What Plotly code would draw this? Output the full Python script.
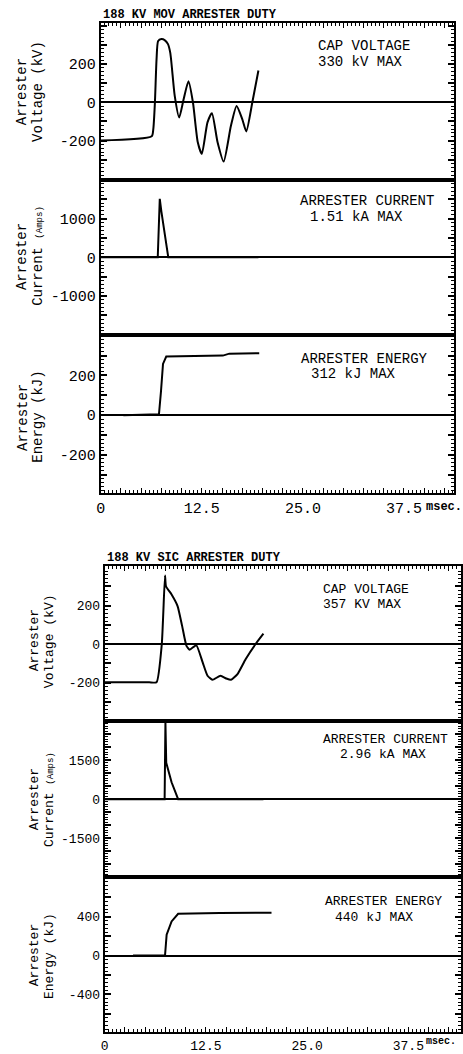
import math
import plotly.graph_objects as go

W, H = 463, 1054
FONT = "Liberation Mono"

# ---------------- data ----------------
# MOV case (top stack)
mov_v_t = [0, 6.3, 6.5, 6.7, 6.9, 7.1, 7.5, 7.9, 8.3, 8.6, 9.15, 9.7, 10.25, 10.85, 11.4, 12.0, 12.5,
           13.2, 13.75, 14.45, 15.2, 16.1, 16.8, 17.5, 18.0, 18.75, 19.5]
mov_v = [-200, -178, -140, 0, 223, 320, 330, 325, 305, 258, 33, -80, 16, 110, 0, -209, -270,
         -105, -57, -209, -310, -123, -19, -88, -152, 0, 166]
mov_i_t = [0, 7.05, 7.3, 7.5, 8.35, 19.5]
mov_i = [0, 0, 1510, 1180, 0, 0]
mov_e_t = [2.8, 7.2, 7.45, 7.7, 8.1, 15.1, 15.9, 19.6]
mov_e = [0, 5, 120, 258, 295, 300, 310, 312]

# SiC case (bottom stack)
sic_v_t = [0, 3.0, 5.5, 6.4, 7.05, 7.45, 7.57, 8.26, 9.0, 9.56, 10.1, 10.5, 11.3, 12.1, 12.7, 13.3,
           14.3, 15.0, 15.6, 16.4, 17.4, 18.7, 19.6]
sic_v = [-198, -198, -198, -198, 0, 357, 301, 258, 198, 95, -9, -29, -5, -95, -164, -185,
         -164, -178, -185, -155, -78, 5, 55]
sic_i_t = [0, 7.4, 7.5, 7.6, 8.26, 9.07, 19.6]
sic_i = [0, 0, 2960, 1400, 650, 0, 0]
sic_e_t = [3.5, 7.45, 7.65, 8.26, 9.07, 14.2, 20.6]
sic_e = [0, 0, 215, 353, 432, 440, 442]

x_labels = ["0", "12.5", "25.0", "37.5"]
x_label_vals = [0, 12.5, 25.0, 37.5]

titles = ["188 KV MOV ARRESTER DUTY", "188 KV SIC ARRESTER DUTY"]
notes_top = [("CAP VOLTAGE", "330 kV MAX"), ("ARRESTER CURRENT", "1.51 kA MAX"),
             ("ARRESTER ENERGY", "312 kJ MAX")]
notes_bot = [("CAP VOLTAGE", "357 KV MAX"), ("ARRESTER CURRENT", "2.96 kA MAX"),
             ("ARRESTER ENERGY", "440 kJ MAX")]
ytitles = [("Arrester", "Voltage (kV)"),
           ("Arrester", "Current <span style='font-size:9px'>(Amps)</span>"),
           ("Arrester", "Energy (kJ)")]


def px_x(p):
    return p / W


def px_y(p):
    return 1 - p / H


fig = go.Figure()

series = [
    (mov_v_t, mov_v, "spline", 0.6), (mov_i_t, mov_i, "linear", 0), (mov_e_t, mov_e, "linear", 0),
    (sic_v_t, sic_v, "spline", 0.5), (sic_i_t, sic_i, "linear", 0), (sic_e_t, sic_e, "linear", 0),
]
for k, (tx, ty, shape, sm) in enumerate(series):
    n = k + 1
    ln = dict(color="black", width=2, shape=shape)
    if shape == "spline":
        ln["smoothing"] = sm
    fig.add_trace(go.Scatter(
        x=tx, y=ty, mode="lines", line=ln,
        xaxis="x" if n == 1 else f"x{n}", yaxis="y" if n == 1 else f"y{n}",
        showlegend=False, hoverinfo="skip"))

top_x = (97, 455)
bot_x = (101, 462)
rows = [(23, 181), (181, 337), (337, 496), (570, 726), (726, 883), (883, 1039)]
yranges = [[-405, 415], [-2000, 2000], [-390, 405], [-400, 405], [-3000, 3000], [-790, 810]]
ymaj = [100, 500, 100, 100, 500, 200]
ymin = [20, 100, 20, 20, 100, 40]
ylab = [[-200, 0, 200], [-1000, 0, 1000], [-200, 0, 200],
        [-200, 0, 200], [-1500, 0, 1500], [-400, 0, 400]]
xranges = [[0, 43.7], [0, 44.0]]

layout = dict(
    width=W, height=H, margin=dict(l=0, r=0, t=0, b=0),
    paper_bgcolor="white", plot_bgcolor="white",
    font=dict(family=FONT, color="black"),
    annotations=[],
)

minor_y = lambda d: dict(dtick=d, ticks="inside", ticklen=3, tickwidth=1, tickcolor="black")

for k in range(6):
    n = k + 1
    top = k < 3
    xs = top_x if top else bot_x
    r0, r1 = rows[k]
    xr = xranges[0] if top else xranges[1]
    lo, hi = yranges[k]
    fsz = 15 if top else 13
    start = math.ceil(lo / ymaj[k]) * ymaj[k]
    vals = list(range(int(start), int(hi) + 1, ymaj[k]))
    yax = dict(
        domain=[px_y(r1), px_y(r0)], range=[lo, hi], anchor="x" if n == 1 else f"x{n}",
        showline=True, linecolor="black", linewidth=2, mirror="ticks",
        ticks="inside", ticklen=6, tickwidth=1.5, tickcolor="black",
        tickmode="array", tickvals=vals,
        ticktext=[str(v) if v in ylab[k] else "" for v in vals],
        tickfont=dict(family=FONT, size=fsz, color="black"),
        minor=minor_y(ymin[k]),
        showgrid=False, zeroline=True, zerolinecolor="black", zerolinewidth=2,
    )
    xvals = [i * 2.5 for i in range(0, 18)]
    xax = dict(
        domain=[px_x(xs[0]), px_x(xs[1])], range=xr, anchor="y" if n == 1 else f"y{n}",
        showline=True, linecolor="black", linewidth=2, mirror=True,
        showgrid=False, zeroline=False,
    )
    if k in (0, 3):
        xax.update(side="top", ticks="inside", ticklen=5, tickwidth=1.2, tickcolor="black",
                   tickmode="array", tickvals=xvals, ticktext=["" for _ in xvals],
                   minor=minor_y(0.5))
    elif k in (2, 5):
        xtexts = [x_labels[x_label_vals.index(v)] if v in x_label_vals else "" for v in xvals]
        xax.update(ticks="inside", ticklen=5, tickwidth=1.2, tickcolor="black",
                   tickmode="array", tickvals=xvals, ticktext=xtexts,
                   tickfont=dict(family=FONT, size=fsz, color="black"),
                   minor=minor_y(0.5))
    else:
        xax.update(ticks="", showticklabels=False)
    layout["xaxis" if n == 1 else f"xaxis{n}"] = xax
    layout["yaxis" if n == 1 else f"yaxis{n}"] = yax

layout["annotations"].append(dict(text=f"<b>{titles[0]}</b>", xref="paper", yref="paper",
    x=px_x(97), y=px_y(15), xanchor="left", yanchor="middle", showarrow=False,
    font=dict(family=FONT, size=12, color="black")))
layout["annotations"].append(dict(text=f"<b>{titles[1]}</b>", xref="paper", yref="paper",
    x=px_x(101), y=px_y(562), xanchor="left", yanchor="middle", showarrow=False,
    font=dict(family=FONT, size=12, color="black")))

note_pos_top = [(315, 46, 315, 62), (297, 202, 307, 218), (298, 361, 308, 377)]
note_pos_bot = [(320, 593, 320, 609), (320, 744, 337, 760), (322, 908, 332, 924)]
for notes, pos, fs in ((notes_top, note_pos_top, 14), (notes_bot, note_pos_bot, 13)):
    for (l1, l2), (x1, y1, x2, y2) in zip(notes, pos):
        for txt, xx, yy in ((l1, x1, y1), (l2, x2, y2)):
            layout["annotations"].append(dict(text=txt, xref="paper", yref="paper",
                x=px_x(xx), y=px_y(yy), xanchor="left", yanchor="middle", showarrow=False,
                font=dict(family=FONT, size=fs, color="black")))

ycent_top = [92, 258, 420]
ycent_bot = [645, 805, 962]
for cents, xl1, xl2, fs in ((ycent_top, 18, 34, 14), (ycent_bot, 30, 45, 13)):
    for (t1, t2), yc in zip(ytitles, cents):
        for txt, xx in ((t1, xl1), (t2, xl2)):
            layout["annotations"].append(dict(text=txt, xref="paper", yref="paper",
                x=px_x(xx), y=px_y(yc), xanchor="center", yanchor="middle", showarrow=False,
                textangle=-90, font=dict(family=FONT, size=fs, color="black")))

layout["annotations"].append(dict(text="<b>msec.</b>", xref="paper", yref="paper",
    x=px_x(424), y=px_y(510), xanchor="left", yanchor="middle", showarrow=False,
    font=dict(family=FONT, size=12, color="black")))
layout["annotations"].append(dict(text="<b>msec.</b>", xref="paper", yref="paper",
    x=px_x(425), y=px_y(1048), xanchor="left", yanchor="middle", showarrow=False,
    font=dict(family=FONT, size=10, color="black")))

fig.update_layout(**layout)
fig.write_html("out.html")
